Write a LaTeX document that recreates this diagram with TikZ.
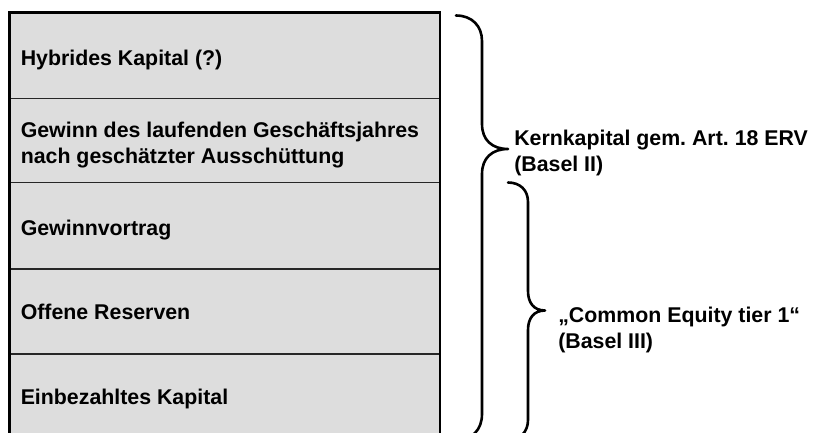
\documentclass[tikz,border=0pt]{standalone}
\usepackage{fontspec}
\setmainfont{Liberation Sans}
\definecolor{cellfill}{HTML}{DDDDDD}
\frenchspacing
\begin{document}
\begin{tikzpicture}[x=0.75pt,y=-0.75pt,
  font=\bfseries\fontsize{16}{19.5}\selectfont,
  celltext/.style={anchor=base west, inner sep=0pt, align=left},
  bracetext/.style={anchor=base west, inner sep=0pt, align=left},
  bracepath/.style={line width=1.95pt, line cap=round, line join=round},
  divider/.style={line width=1.1pt, black!85},
  outerframe/.style={line width=2.2pt, black}]
\clip (0,0) rectangle (814,432);
% stack of cells
\fill[cellfill] (9.5,12.7) rectangle (440,440);
\foreach \yy in {98.3,182.7,269,354}
  \draw[divider] (9.5,\yy) -- (440,\yy);
\draw[outerframe] (9.5,12.7) rectangle (440,440);
% cell texts (anchor = baseline of last line)
\node[celltext] (t1) at (20.5,65.7) {Hybrides Kapital (?)};
\node[celltext] (t2) at (20.5,163.3) {Gewinn des laufenden Geschäftsjahres\\nach geschätzter Ausschüttung};
\node[celltext] (t3) at (20.5,235) {Gewinnvortrag};
\node[celltext] (t4) at (20.5,319.5) {Offene Reserven};
\node[celltext] (t5) at (20.5,404.5) {Einbezahltes Kapital};
% brace 1
\draw[bracepath] (456,15.5) .. controls (472,15.5) and (482,26) .. (482,41)
  -- (482,124) .. controls (482,140) and (492,149) .. (508,149)
  .. controls (492,149) and (482,158) .. (482,174)
  -- (482,414) .. controls (482,430) and (472,440) .. (456,440);
% brace 2
\draw[bracepath] (508,182.5) .. controls (520,182.5) and (528,190) .. (528,202)
  -- (528,291) .. controls (528,303) and (534,310.5) .. (545,310.5)
  .. controls (534,310.5) and (528,318) .. (528,330)
  -- (528,420) .. controls (528,432) and (520,440) .. (508,440);
% labels
\node[bracetext] (k1) at (514,171.5) {Kernkapital gem. Art. 18 ERV\\(Basel II)};
\node[bracetext] (k2) at (558,348.3) {„Common Equity tier 1“\\(Basel III)};
\end{tikzpicture}
\end{document}
